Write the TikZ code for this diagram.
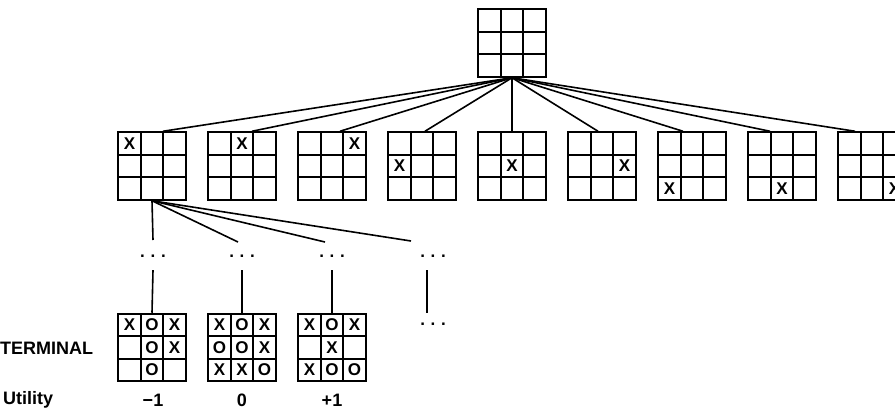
\documentclass[tikz,border=0pt]{standalone}
\usepackage{fontspec}
\setmainfont{Liberation Sans}
\usetikzlibrary{matrix}

\begin{document}
\begin{tikzpicture}[
    x=1pt, y=-1pt,
    font=\fontsize{17}{19}\selectfont\bfseries,
    board/.style={matrix of nodes, nodes in empty cells, inner sep=0pt, outer sep=0pt,
        column sep=-2pt, row sep=-2pt,
        nodes={draw, line width=2pt, minimum size=22.5pt, inner sep=0pt, outer sep=0pt, anchor=center}},
    edge/.style={line width=1.6pt},
    dots/.style={minimum height=28pt, inner sep=0pt},
    rowtext/.style={font=\fontsize{18}{20}\selectfont\bfseries, inner sep=0pt}
]
    \useasboundingbox (0,0) rectangle (895,410);

    % root
    \matrix (top) [board] at (512,43) {&&\\&&\\&&\\};

    % first move of X
    \matrix (c1) [board] at (152,166) {X&&\\&&\\&&\\};
    \matrix (c2) [board] at (242,166) {&X&\\&&\\&&\\};
    \matrix (c3) [board] at (332,166) {&&X\\&&\\&&\\};
    \matrix (c4) [board] at (422,166) {&&\\X&&\\&&\\};
    \matrix (c5) [board] at (512,166) {&&\\&X&\\&&\\};
    \matrix (c6) [board] at (602,166) {&&\\&&X\\&&\\};
    \matrix (c7) [board] at (692,166) {&&\\&&\\X&&\\};
    \matrix (c8) [board] at (782,166) {&&\\&&\\&X&\\};
    \matrix (c9) [board] at (872,166) {&&\\&&\\&&X\\};

    \foreach \k/\off in {1/11,2/10,3/8,4/3,5/0,6/-4,7/-9,8/-12,9/-17}
        \draw[edge] (top.south) -- ([xshift=\off pt]c\k.north);

    % deeper levels
    \coordinate (e1) at (153,240);
    \coordinate (e2) at (238,242);
    \coordinate (e3) at (325,242);
    \coordinate (e4) at (411,241);
    \foreach \k in {1,...,4}
        \draw[edge] (c1.south) -- (e\k);

    \node[dots] (dot1) at (153,256) {.\,\,.\,\,.};
    \node[dots] (dot2) at (242,256) {.\,\,.\,\,.};
    \node[dots] (dot3) at (332,256) {.\,\,.\,\,.};
    \node[dots] (dot4) at (433,256) {.\,\,.\,\,.};
    \node[dots, minimum height=22pt] (more) at (433,324) {.\,\,.\,\,.};

    % terminal states
    \matrix (t1) [board] at (152,347.5) {X&O&X\\&O&X\\&O&\\};
    \matrix (t2) [board] at (242,347.5) {X&O&X\\O&O&X\\X&X&O\\};
    \matrix (t3) [board] at (332,347.5) {X&O&X\\&X&\\X&O&O\\};

    \draw[edge] (dot1.south) -- (t1.north);
    \draw[edge] (dot2.south) -- (t2.north);
    \draw[edge] (dot3.south) -- (t3.north);
    \draw[edge] ([xshift=-6pt]dot4.south) -- ([xshift=-6pt]more.north);

    % labels
    \node[rowtext, anchor=west] (term) at (0,348) {TERMINAL};
    \node[rowtext, anchor=west] (util) at (3,400) {Utility};
    \node[rowtext] (u1) at (153,400) {−1};
    \node[rowtext] (u2) at (242,400) {0};
    \node[rowtext] (u3) at (332,400) {+1};
\end{tikzpicture}
\end{document}
